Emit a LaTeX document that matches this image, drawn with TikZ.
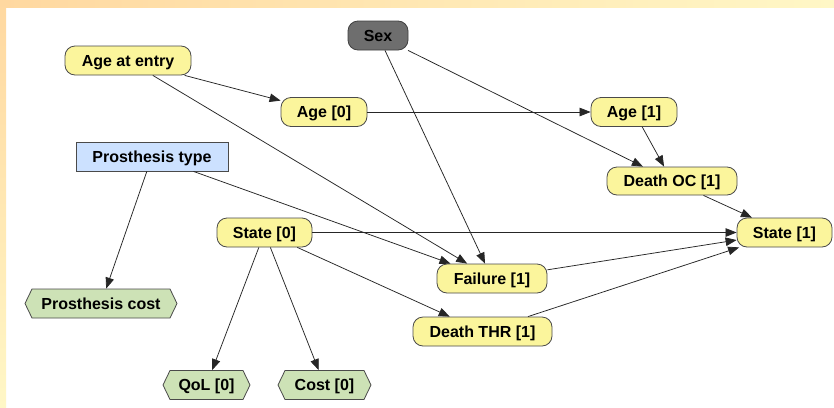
\documentclass[tikz,border=0pt]{standalone}
\usepackage{fontspec}
\setmainfont{Liberation Sans}
\usetikzlibrary{arrows.meta}
\definecolor{nodeyellow}{HTML}{FBF59C}
\definecolor{nodeblue}{HTML}{CCE1FF}
\definecolor{nodegreen}{HTML}{CDE2B6}
\definecolor{nodegray}{HTML}{6E6E6E}
\definecolor{borderc}{HTML}{4A4A4A}
\definecolor{bgorange}{HTML}{FFD8A0}
\definecolor{bgyellow}{HTML}{FFF7C6}
\tikzset{
  base/.style={draw=borderc, line width=0.8pt, inner sep=0pt, minimum height=29pt,
    text height=11.5pt, text depth=0pt,
    font=\fontsize{16}{18}\selectfont\bfseries, text=black, align=center},
  chance/.style={base, fill=nodeyellow, rounded corners=10pt},
  decision/.style={base, fill=nodeblue},
  given/.style={base, fill=nodegray, draw=black!75, rounded corners=10pt},
  hexline/.style={draw=borderc, fill=nodegreen, line width=0.8pt},
  hexbox/.style={base, draw=none, fill=none},
  link/.style={draw=black!85, line width=0.75pt, -{Triangle[length=11pt,width=8.5pt]}}
}
\newcommand\hexnode[5]{%
  \filldraw[hexline] ({#2-#4/2},#3) -- ({#2-#4/2+7},{#3-14.5}) -- ({#2+#4/2-7},{#3-14.5})
     -- ({#2+#4/2},#3) -- ({#2+#4/2-7},{#3+14.5}) -- ({#2-#4/2+7},{#3+14.5}) -- cycle;
  \node[hexbox, minimum width=#4pt] (#1) at (#2,#3) {#5};
}
\begin{document}
\begin{tikzpicture}[x=1pt,y=-1pt]
  % canvas and background
  \useasboundingbox (0,0) rectangle (834,407);
  \fill[white] (0,0) rectangle (834,407);
  \shade[left color=bgorange, right color=bgyellow] (0,0) rectangle (834,7);
  \shade[top color=bgorange, bottom color=bgyellow] (0,0) rectangle (6,407);

  % nodes
  \node[chance, minimum width=126pt] (ageentry) at (128,60.5) {Age at entry};
  \node[given, minimum width=60pt] (sex) at (378,35.5) {Sex};
  \node[chance, minimum width=86pt] (age0) at (324,112) {Age [0]};
  \node[decision, minimum width=152pt] (ptype) at (152,156.5) {Prosthesis type};
  \node[chance, minimum width=86pt] (age1) at (634,112) {Age [1]};
  \node[chance, minimum width=130pt, minimum height=28pt] (deathoc) at (672,181) {Death OC [1]};
  \node[chance, minimum width=95pt] (state0) at (264.5,232.5) {State [0]};
  \node[chance, minimum width=95pt] (state1) at (784.5,232.5) {State [1]};
  \node[chance, minimum width=110pt] (failure) at (492,278.5) {Failure [1]};
  \node[chance, minimum width=139pt] (deaththr) at (482.5,331.5) {Death THR [1]};
  \hexnode{pcost}{101}{303.5}{152}{Prosthesis cost}
  \hexnode{qol}{206.5}{385}{87}{QoL [0]}
  \hexnode{cost}{324.5}{385}{93}{Cost [0]}

  % connectors
  \draw[link] (ageentry) -- (age0);
  \draw[link] (ageentry) -- (failure);
  \draw[link] (sex) -- (failure);
  \draw[link] (sex) -- (deathoc);
  \draw[link] (age0) -- (age1);
  \draw[link] (age1) -- (deathoc);
  \draw[link] (deathoc) -- (state1);
  \draw[link] (ptype) -- (failure);
  \draw[link] (ptype) -- (pcost);
  \draw[link] (state0) -- (state1);
  \draw[link] (state0) -- (qol);
  \draw[link] (state0) -- (cost);
  \draw[link] (state0) -- (deaththr);
  \draw[link] (failure) -- (state1);
  \draw[link] (deaththr) -- (state1);
\end{tikzpicture}
\end{document}
